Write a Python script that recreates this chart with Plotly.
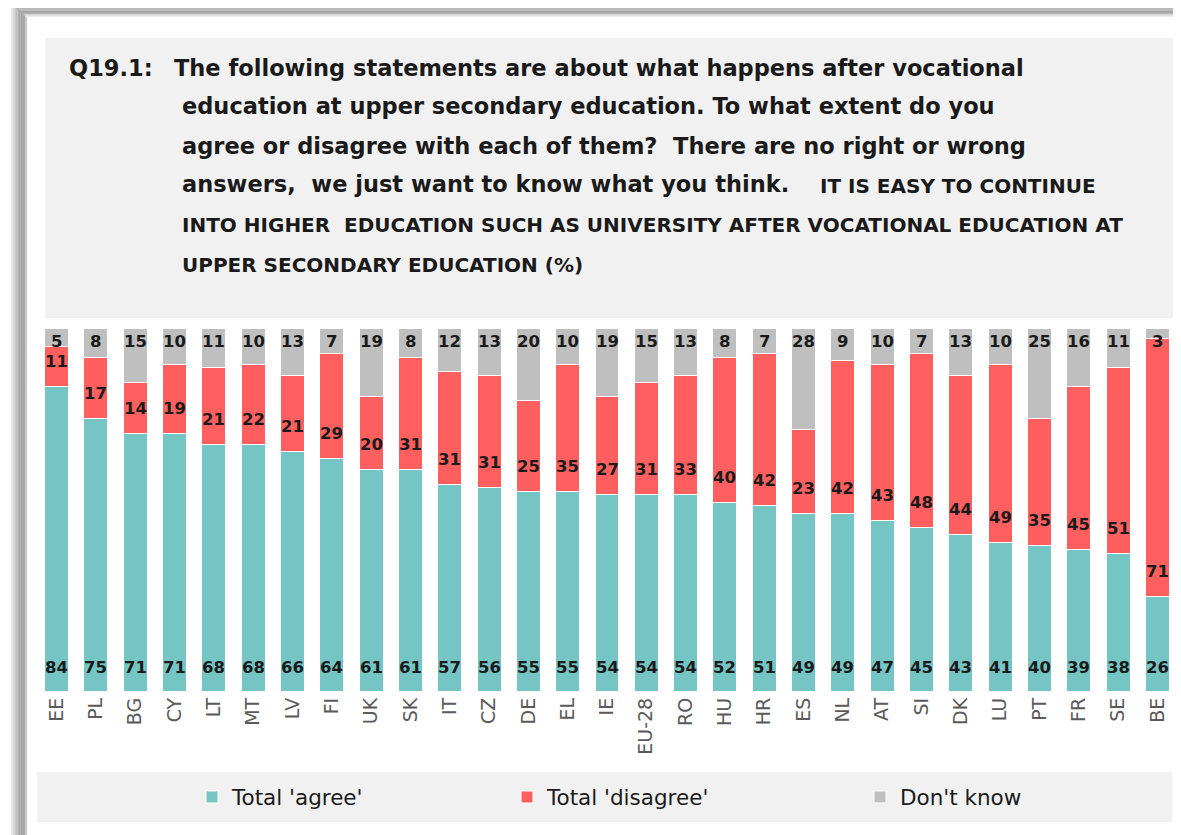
import plotly.graph_objects as go

countries = ["EE", "PL", "BG", "CY", "LT", "MT", "LV", "FI", "UK", "SK", "IT", "CZ", "DE", "EL", "IE",
             "EU-28", "RO", "HU", "HR", "ES", "NL", "AT", "SI", "DK", "LU", "PT", "FR", "SE", "BE"]
agree = [84, 75, 71, 71, 68, 68, 66, 64, 61, 61, 57, 56, 55, 55, 54, 54, 54, 52, 51, 49, 49, 47, 45, 43, 41, 40, 39, 38, 26]
disagree = [11, 17, 14, 19, 21, 22, 21, 29, 20, 31, 31, 31, 25, 35, 27, 31, 33, 40, 42, 23, 42, 43, 48, 44, 49, 35, 45, 51, 71]
dont_know = [5, 8, 15, 10, 11, 10, 13, 7, 19, 8, 12, 13, 20, 10, 19, 15, 13, 8, 7, 28, 9, 10, 7, 13, 10, 25, 16, 11, 3]

series_names = ["Total 'agree'", "Total 'disagree'", "Don't know"]
colors = ["#74c5c4", "#ff5f5f", "#bfbfbf"]

# page body has an 8px margin; lay the figure out in reference-pixel terms
OFF = 8
W, H = 1181 - OFF, 835 - OFF
PLOT_L, PLOT_R, PLOT_T, PLOT_B = 37, 1177, 328, 691  # reference pixels
L = PLOT_L - OFF
R = W - (PLOT_R - OFF)
T = PLOT_T - OFF
B = H - (PLOT_B - OFF)
PW = PLOT_R - PLOT_L
PH = PLOT_B - PLOT_T


def px(x):
    return (x - PLOT_L) / PW


def py(y):
    return (PLOT_B - y) / PH


FONT = "Liberation Sans, Arial, sans-serif"
WIDE = "DejaVu Sans, Verdana, sans-serif"

fig = go.Figure()
for i, (name, vals) in enumerate(zip(series_names, [agree, disagree, dont_know])):
    fig.add_trace(go.Bar(
        x=countries, y=vals, name=name,
        marker=dict(color=colors[i], line=dict(color="white", width=1)),
        legend=["legend", "legend2", "legend3"][i],
        hoverinfo="x+y+name",
    ))

annotations = []
lab_font = dict(family=WIDE, size=16.5, color="#1a1a1a")
for c, a, d, k in zip(countries, agree, disagree, dont_know):
    annotations.append(dict(x=c, y=0, xref="x", yref="y", text=f"<b>{a}</b>", showarrow=False,
                            yanchor="middle", yshift=24, font=lab_font))
    annotations.append(dict(x=c, y=a, xref="x", yref="y", text=f"<b>{d}</b>", showarrow=False,
                            yanchor="middle", yshift=25, font=lab_font))
    annotations.append(dict(x=c, y=a + d + k, xref="x", yref="y", text=f"<b>{k}</b>", showarrow=False,
                            yanchor="middle", yshift=-13, font=lab_font))

# Title text
title_font = dict(family=WIDE, size=22.5, color="#1a1a1a")
caps_font = dict(family=WIDE, size=20, color="#1a1a1a")
annotations.append(dict(x=px(67), y=py(68), xref="paper", yref="paper", xanchor="left", yanchor="middle",
                        text="<b>Q19.1:</b>", showarrow=False, font=title_font))
lines = [
    (172, 68, "The following statements are about what happens after vocational", title_font),
    (180, 106, "education at upper secondary education. To what extent do you", title_font),
    (180, 146, "agree or disagree with each of them?  There are no right or wrong", title_font),
    (180, 184, "answers,  we just want to know what you think.", title_font),
    (818, 186, "IT IS EASY TO CONTINUE", caps_font),
    (180, 225, "INTO HIGHER  EDUCATION SUCH AS UNIVERSITY AFTER VOCATIONAL EDUCATION AT", caps_font),
    (180, 265, "UPPER SECONDARY EDUCATION (%)", caps_font),
]
for x0, y0, t, f in lines:
    annotations.append(dict(x=px(x0), y=py(y0), xref="paper", yref="paper", xanchor="left", yanchor="middle",
                            text=f"<b>{t}</b>", showarrow=False, font=f))

shapes = []
# frame shadow: left and top edges
left_cols = ["#e6e6e6", "#d9d9d9", "#cccccc", "#bfbfbf", "#b3b3b3", "#aaaaaa", "#a3a3a3", "#9e9e9e", "#a6a6a6", "#c8c8c8"]
for j, col in enumerate(left_cols):
    x0 = 11 + j * 1.6
    shapes.append(dict(type="rect", xref="paper", yref="paper", x0=px(x0), x1=px(x0 + 1.7),
                       y0=py(4 + j * 1.3), y1=py(850), fillcolor=col, line=dict(width=0), layer="below"))
top_cols = ["#e6e6e6", "#d6d6d6", "#c6c6c6", "#b8b8b8", "#ababab", "#a3a3a3", "#a8a8a8", "#b5b5b5", "#d0d0d0", "#ececec"]
for j, col in enumerate(top_cols):
    y0 = 4 + j * 1.3
    shapes.append(dict(type="rect", xref="paper", yref="paper", x0=px(11 + j * 1.6), x1=px(1200),
                       y0=py(y0), y1=py(y0 + 1.4), fillcolor=col, line=dict(width=0), layer="below"))
# title box
shapes.append(dict(type="rect", xref="paper", yref="paper", x0=px(45), x1=px(1200), y0=py(38), y1=py(318),
                   fillcolor="#f1f1f1", line=dict(width=0), layer="below"))
# legend box
shapes.append(dict(type="rect", xref="paper", yref="paper", x0=px(37), x1=px(1172), y0=py(772), y1=py(822),
                   fillcolor="#f1f1f1", line=dict(width=0), layer="below"))

leg_font = dict(family=WIDE, size=21.5, color="#1a1a1a")


def leg(x):
    return dict(x=px(x), y=py(797), xanchor="left", yanchor="middle", orientation="h",
                bgcolor="rgba(0,0,0,0)", font=leg_font, itemwidth=30)


fig.update_layout(
    width=W, height=H,
    margin=dict(l=L, r=R, t=T, b=B, pad=0),
    barmode="stack", bargap=0.39,
    paper_bgcolor="white", plot_bgcolor="rgba(0,0,0,0)",
    font=dict(family=FONT),
    xaxis=dict(tickangle=-90, showgrid=False, showline=False, ticks="", zeroline=False,
               tickfont=dict(family=WIDE, size=19, color="#5a5a5a"), ticklabelstandoff=2),
    yaxis=dict(range=[0, 100], visible=False, showgrid=False, zeroline=False),
    showlegend=True,
    legend=leg(192),
    legend2=leg(507),
    legend3=leg(860),
    annotations=annotations,
    shapes=shapes,
)

fig.write_html("out.html")
